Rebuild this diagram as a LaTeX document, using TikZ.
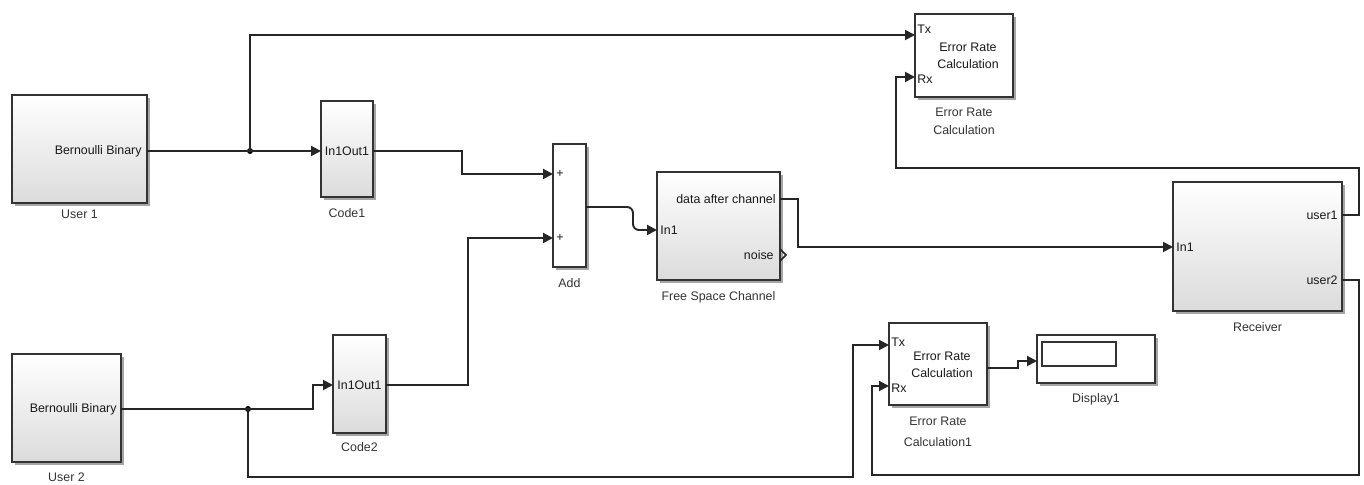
\documentclass[tikz,border=0pt]{standalone}
\usepackage{fontspec}
\setmainfont{Liberation Sans}
\usetikzlibrary{arrows.meta,shadows}
\begin{document}
\begin{tikzpicture}[x=0.5pt,y=-0.5pt,
 shad/.style={drop shadow={shadow xshift=1.3pt,shadow yshift=-1.3pt,opacity=0.35,fill=black}},
 blk/.style={draw=black!80, line width=1pt, shading=axis, top color=white, middle color=white, bottom color=black!14, shad, inner sep=0pt},
 wblk/.style={draw=black!80, line width=1pt, fill=white, shad, inner sep=0pt},
 wire/.style={line width=0.95pt, draw=black!85},
 arr/.style={wire, -{Triangle[length=5pt,width=5pt]}},
 lbl/.style={font=\fontsize{6.2}{7}\selectfont, text=black!80, inner sep=0pt},
 txt/.style={font=\fontsize{6.2}{7}\selectfont, text=black!90, inner sep=0.5pt},
 dot/.style={circle, fill=black, inner sep=0pt, minimum size=3pt}]
\useasboundingbox (0,0) rectangle (1364,485);

% blocks
\node[blk, minimum width=67.5pt, minimum height=54pt] (user1) at (79.5,149) {};
\node[blk, minimum width=26pt, minimum height=48pt] (code1) at (347,149) {};
\node[blk, minimum width=54.5pt, minimum height=54pt] (user2) at (66.5,408) {};
\node[blk, minimum width=26.5pt, minimum height=49pt] (code2) at (359.5,384) {};
\node[wblk, minimum width=16.5pt, minimum height=61.5pt] (add) at (569.5,205.5) {};
\node[blk, minimum width=61.5pt, minimum height=54pt] (fsc) at (718.5,226) {};
\node[blk, minimum width=84.5pt, minimum height=64.5pt] (rec) at (1257.5,246.5) {};
\node[wblk, minimum width=49pt, minimum height=41.5pt] (erc) at (964,55.5) {};
\node[wblk, minimum width=49pt, minimum height=41pt] (erc1) at (938,364) {};
\node[wblk, minimum width=59pt, minimum height=24pt] (disp) at (1096,359) {};
\draw[line width=0.9pt, draw=black!80] (1042,342) rectangle (1116,366);

% block texts
\node[txt, anchor=east] (u1t) at (143,151) {Bernoulli Binary};
\node[txt, anchor=east] (u2t) at (118,409) {Bernoulli Binary};
\node[txt] (c1t) at (347,151) {In1Out1};
\node[txt] (c2t) at (359.5,385) {In1Out1};
\node[txt, anchor=west] (ap1) at (555,174) {+};
\node[txt, anchor=west] (ap2) at (555,238) {+};
\node[txt, anchor=east] (fdc) at (777,199) {data after channel};
\node[txt, anchor=west] (fin) at (659,230) {In1};
\node[txt, anchor=east] (fno) at (775,255) {noise};
\draw[line width=0.8pt, draw=black!85] (780,249) -- (786,255) -- (780,261);
\node[txt, anchor=west] (rin) at (1175,247) {In1};
\node[txt, anchor=east] (ru1) at (1339,215) {user1};
\node[txt, anchor=east] (ru2) at (1339,280) {user2};
\node[txt, anchor=west] (etx) at (916,29) {Tx};
\node[txt] (ee1) at (968,47) {Error Rate};
\node[txt] (ee2) at (968,64) {Calculation};
\node[txt, anchor=west] (erx) at (916,79) {Rx};
\node[txt, anchor=west] (etx1) at (890,342) {Tx};
\node[txt] (ef1) at (942,356) {Error Rate};
\node[txt] (ef2) at (942,373) {Calculation};
\node[txt, anchor=west] (erx1) at (890,388) {Rx};

% labels
\node[lbl] (l1) at (79.5,214) {User 1};
\node[lbl] (l2) at (347,213) {Code1};
\node[lbl] (l3) at (66.5,477) {User 2};
\node[lbl] (l4) at (359.5,447) {Code2};
\node[lbl] (l5) at (569.5,283) {Add};
\node[lbl] (l6) at (718.5,297) {Free Space Channel};
\node[lbl] (l7) at (1257.5,327) {Receiver};
\node[lbl] (l8) at (964,112) {Error Rate};
\node[lbl] (l9) at (964,130) {Calculation};
\node[lbl] (l10) at (938,421) {Error Rate};
\node[lbl] (l11) at (938,442) {Calculation1};
\node[lbl] (l12) at (1096,399) {Display1};

% ports
\coordinate (u1o) at (147,151);
\coordinate (c1i) at (321,151);
\coordinate (c1o) at (373,151);
\coordinate (u2o) at (121,409);
\coordinate (c2i) at (333,385);
\coordinate (c2o) at (386,385);
\coordinate (a1) at (553,174);
\coordinate (a2) at (553,238);
\coordinate (ao) at (586,207);
\coordinate (fi) at (657,230);
\coordinate (fo) at (780,199);
\coordinate (ri) at (1173,247);
\coordinate (ro1) at (1342,215);
\coordinate (ro2) at (1342,280);
\coordinate (tx) at (915,35);
\coordinate (rx) at (915,77);
\coordinate (tx1) at (889,345);
\coordinate (rx1) at (889,386);
\coordinate (eo) at (987,368);
\coordinate (di) at (1037,361);
\node[dot] (j1) at (250,151) {};
\node[dot] (j2) at (248,409) {};

% wires
\draw[arr] (u1o) -- (c1i);
\draw[arr] (j1.center) |- (tx);
\draw[arr] (c1o) -| (462,174) -- (a1);
\draw[arr] (u2o) -- (313,409) |- (c2i);
\draw[arr] (c2o) -| (468,238) -- (a2);
\draw[arr, rounded corners=3pt] (ao) -| (633,230) -- (fi);
\draw[arr] (fo) -| (798,247) -- (ri);
\draw[arr] (ro1) -| (1359,168) -| (896,77) -- (rx);
\draw[arr] (ro2) -| (1359,475) -| (872,386) -- (rx1);
\draw[arr] (j2.center) |- (853,477) |- (tx1);
\draw[arr] (eo) -| (1018,361) -- (di);
\end{tikzpicture}
\end{document}
